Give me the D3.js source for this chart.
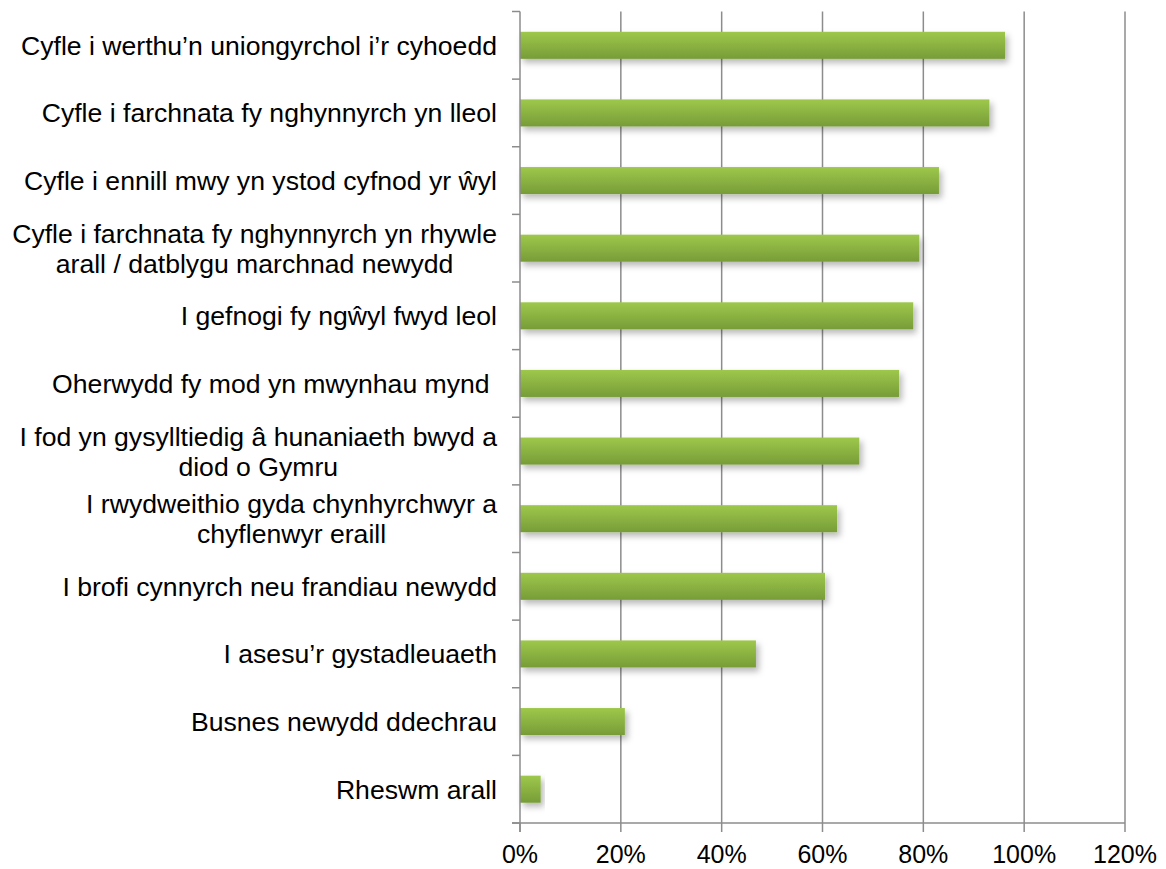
<!DOCTYPE html>
<html>
<head>
<meta charset="utf-8">
<script src="https://cdn.jsdelivr.net/npm/d3@7"></script>
<style>
  html, body { margin: 0; padding: 0; background: #fff; }
  svg { display: block; }
  text { font-family: "Liberation Sans", Arial, sans-serif; fill: #000; }
</style>
</head>
<body>
<svg id="chart" width="1166" height="869"></svg>
<script>
const categories = [
  ["Cyfle i werthu\u2019n uniongyrchol i\u2019r cyhoedd"],
  ["Cyfle i farchnata fy nghynnyrch yn lleol"],
  ["Cyfle i ennill mwy yn ystod cyfnod yr \u0175yl"],
  ["Cyfle i farchnata fy nghynnyrch yn rhywle", "arall / datblygu marchnad newydd"],
  ["I gefnogi fy ng\u0175yl fwyd leol"],
  ["Oherwydd fy mod yn mwynhau mynd\u00a0"],
  ["I fod yn gysylltiedig \u00e2 hunaniaeth bwyd a", "diod o Gymru"],
  ["I rwydweithio gyda chynhyrchwyr a", "chyflenwyr eraill"],
  ["I brofi cynnyrch neu frandiau newydd"],
  ["I asesu\u2019r gystadleuaeth"],
  ["Busnes newydd ddechrau"],
  ["Rheswm arall"]
];
const values = [0.962, 0.931, 0.831, 0.792, 0.780, 0.752, 0.673, 0.629, 0.605, 0.468, 0.208, 0.041];
const xTicks = [0, 0.2, 0.4, 0.6, 0.8, 1.0, 1.2];

(function () {
const svg = d3.select("#chart");
const pLeft = 520, pRight = 1125, pTop = 11.5, pBottom = 823;

const x = d3.scaleLinear().domain([0, 1.2]).range([pLeft, pRight]);
const keys = categories.map((c, i) => i);
const y = d3.scaleBand().domain(keys).range([pTop, pBottom]).padding(0);

const defs = svg.append("defs");
const grad = defs.append("linearGradient").attr("id", "barGrad")
  .attr("x1", 0).attr("y1", 0).attr("x2", 0).attr("y2", 1);
grad.append("stop").attr("offset", "0%").attr("stop-color", "#9ec84b");
grad.append("stop").attr("offset", "100%").attr("stop-color", "#779c38");
const filt = defs.append("filter").attr("id", "shadow")
  .attr("x", "-10%").attr("y", "-30%").attr("width", "130%").attr("height", "180%");
filt.append("feDropShadow").attr("dx", 3).attr("dy", 4).attr("stdDeviation", 3)
  .attr("flood-color", "#000").attr("flood-opacity", 0.28);

const gridColor = "#8c8c8c";

// vertical gridlines
svg.append("g").selectAll("line").data(xTicks.slice(1)).join("line")
  .attr("x1", d => x(d)).attr("x2", d => x(d))
  .attr("y1", pTop).attr("y2", pBottom)
  .attr("stroke", gridColor).attr("stroke-width", 1.5);

// bars
const bh = y.bandwidth() * 0.4;
svg.append("g").selectAll("rect").data(values).join("rect")
  .attr("x", x(0))
  .attr("y", (d, i) => y(i) + y.bandwidth() / 2 - bh / 2)
  .attr("width", d => x(d) - x(0))
  .attr("height", bh)
  .attr("fill", "url(#barGrad)")
  .attr("filter", "url(#shadow)");

// left axis line and ticks
svg.append("line").attr("x1", pLeft).attr("x2", pLeft).attr("y1", pTop).attr("y2", pBottom + 9)
  .attr("stroke", gridColor).attr("stroke-width", 1.5);
const bounds = keys.map(k => y(k)).concat([pBottom]);
svg.append("g").selectAll("line").data(bounds).join("line")
  .attr("x1", pLeft - 8).attr("x2", pLeft)
  .attr("y1", d => d).attr("y2", d => d)
  .attr("stroke", gridColor).attr("stroke-width", 1.5);

// bottom axis line and ticks
svg.append("line").attr("x1", pLeft - 8).attr("x2", pRight).attr("y1", pBottom).attr("y2", pBottom)
  .attr("stroke", gridColor).attr("stroke-width", 1.5);
svg.append("g").selectAll("line").data(xTicks).join("line")
  .attr("x1", d => x(d)).attr("x2", d => x(d))
  .attr("y1", pBottom).attr("y2", pBottom + 9)
  .attr("stroke", gridColor).attr("stroke-width", 1.5);

// x tick labels
const fmt = d3.format(".0%");
svg.append("g").selectAll("text").data(xTicks).join("text")
  .attr("x", d => x(d)).attr("y", 863)
  .attr("text-anchor", "middle")
  .style("font-size", "25px")
  .text(d => fmt(d));

// category labels
const labelRight = 497;
const lineH = 30;
const capH = 9.5;
const lg = svg.append("g");
categories.forEach((lines, i) => {
  const cy = y(i) + y.bandwidth() / 2;
  const g = lg.append("g");
  const texts = lines.map((t, j) => g.append("text")
    .style("font-size", "26.6px")
    .attr("y", cy + capH + (j - (lines.length - 1) / 2) * lineH)
    .text(t));
  const widths = texts.map(t => t.node().getComputedTextLength());
  const maxW = d3.max(widths);
  const cx = labelRight - maxW / 2;
  texts.forEach(t => t.attr("x", cx).attr("text-anchor", "middle"));
});
})();
</script>
</body>
</html>
